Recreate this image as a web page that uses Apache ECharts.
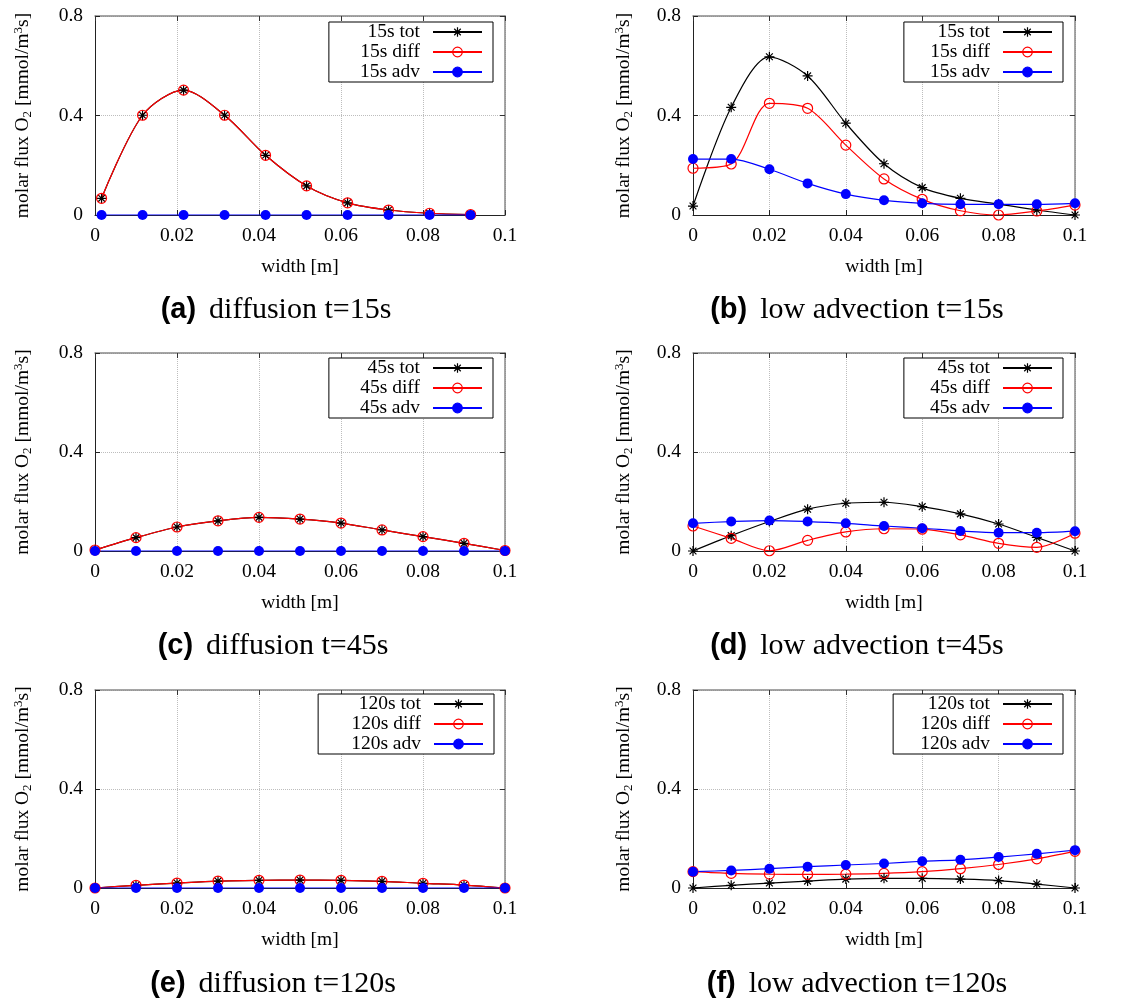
<!DOCTYPE html>
<html>
<head>
<meta charset="utf-8">
<script src="https://cdn.jsdelivr.net/npm/echarts@6.0.0/dist/echarts.min.js"></script>
<style>
  html, body { margin: 0; padding: 0; background: #fff; }
  #chart { width: 1141px; height: 1000px; }
</style>
</head>
<body>
<div id="chart"></div>
<script>
// Sample positions across the channel width [m]
const widthShifted = [0.0016, 0.0116, 0.0216, 0.0316, 0.0416, 0.0516, 0.0616, 0.0716, 0.0816, 0.0916];
const widthNodes   = [0, 0.01, 0.02, 0.03, 0.04, 0.05, 0.06, 0.07, 0.08, 0.09, 0.1];

// (a) diffusion, t = 15 s
const diff15Tot  = [0.067, 0.401, 0.502, 0.401, 0.240, 0.117, 0.049, 0.020, 0.007, 0.002];
const diff15Diff = [0.067, 0.401, 0.502, 0.401, 0.240, 0.117, 0.049, 0.020, 0.007, 0.002];
const diff15Adv  = [0, 0, 0, 0, 0, 0, 0, 0, 0, 0];

// (b) low advection, t = 15 s
const adv15Tot  = [0.036, 0.433, 0.636, 0.559, 0.369, 0.206, 0.110, 0.067, 0.044, 0.020, 0.000];
const adv15Diff = [0.188, 0.205, 0.449, 0.429, 0.281, 0.145, 0.063, 0.017, 0.000, 0.016, 0.040];
const adv15Adv  = [0.225, 0.225, 0.184, 0.127, 0.084, 0.059, 0.047, 0.043, 0.043, 0.043, 0.047];

// (c) diffusion, t = 45 s
const diff45Tot  = [0.004, 0.054, 0.097, 0.122, 0.136, 0.129, 0.113, 0.085, 0.058, 0.031, 0.002];
const diff45Diff = [0.004, 0.054, 0.097, 0.122, 0.136, 0.129, 0.113, 0.085, 0.058, 0.031, 0.002];
const diff45Adv  = [0, 0, 0, 0, 0, 0, 0, 0, 0, 0, 0];

// (d) low advection, t = 45 s
const adv45Tot  = [0.000, 0.062, 0.119, 0.169, 0.193, 0.197, 0.179, 0.150, 0.109, 0.055, 0.000];
const adv45Diff = [0.101, 0.051, 0.001, 0.043, 0.077, 0.090, 0.088, 0.065, 0.031, 0.015, 0.072];
const adv45Adv  = [0.112, 0.119, 0.123, 0.119, 0.112, 0.101, 0.092, 0.081, 0.074, 0.074, 0.080];

// (e) diffusion, t = 120 s
const diff120Tot  = [0.000, 0.011, 0.020, 0.028, 0.031, 0.032, 0.031, 0.027, 0.019, 0.012, 0.000];
const diff120Diff = [0.000, 0.011, 0.020, 0.028, 0.031, 0.032, 0.031, 0.027, 0.019, 0.012, 0.000];
const diff120Adv  = [0, 0, 0, 0, 0, 0, 0, 0, 0, 0, 0];

// (f) low advection, t = 120 s
const adv120Tot  = [0.000, 0.011, 0.020, 0.028, 0.036, 0.039, 0.039, 0.036, 0.030, 0.016, 0.000];
const adv120Diff = [0.066, 0.059, 0.056, 0.055, 0.056, 0.059, 0.066, 0.078, 0.095, 0.118, 0.148];
const adv120Adv  = [0.066, 0.071, 0.078, 0.086, 0.093, 0.099, 0.108, 0.114, 0.125, 0.138, 0.153];

// Axis ranges
const xMin = 0, xMax = 0.1, xStep = 0.02;
const yMin = 0, yMax = 0.8, yStep = 0.4;

const panels = [
  { tag: '(a)', caption: 'diffusion t=15s',       time: '15s',  x: widthShifted, tot: diff15Tot,  diff: diff15Diff,  adv: diff15Adv },
  { tag: '(b)', caption: 'low advection t=15s',   time: '15s',  x: widthNodes,   tot: adv15Tot,   diff: adv15Diff,   adv: adv15Adv },
  { tag: '(c)', caption: 'diffusion t=45s',       time: '45s',  x: widthNodes,   tot: diff45Tot,  diff: diff45Diff,  adv: diff45Adv },
  { tag: '(d)', caption: 'low advection t=45s',   time: '45s',  x: widthNodes,   tot: adv45Tot,   diff: adv45Diff,   adv: adv45Adv },
  { tag: '(e)', caption: 'diffusion t=120s',      time: '120s', x: widthNodes,   tot: diff120Tot, diff: diff120Diff, adv: diff120Adv },
  { tag: '(f)', caption: 'low advection t=120s',  time: '120s', x: widthNodes,   tot: adv120Tot,  diff: adv120Diff,  adv: adv120Adv }
];

// Panel placement on the page
const layouts = [
  { left: 95,  top: 16,  width: 410, height: 199, legRight: 648, legTop: 22,  legPadL: 31, yGap: 61, capX: 276, capTop: 294 },
  { left: 693, top: 16,  width: 382, height: 199, legRight: 78,  legTop: 22,  legPadL: 26, yGap: 58, capX: 857, capTop: 294 },
  { left: 95,  top: 353, width: 410, height: 198, legRight: 648, legTop: 358, legPadL: 31, yGap: 61, capX: 273, capTop: 630 },
  { left: 693, top: 353, width: 382, height: 198, legRight: 78,  legTop: 358, legPadL: 26, yGap: 58, capX: 857, capTop: 630 },
  { left: 95,  top: 690, width: 410, height: 198, legRight: 647, legTop: 694, legPadL: 33, yGap: 61, capX: 273, capTop: 968 },
  { left: 693, top: 690, width: 382, height: 198, legRight: 78,  legTop: 694, legPadL: 27, yGap: 58, capX: 857, capTop: 968 }
];

const SERIF = "'Liberation Serif', 'Times New Roman', serif";
const SANS = "'Liberation Sans', Arial, sans-serif";
const ASTERISK = 'path://M5 0L5 10M0 5L10 5M1.6 1.6L8.4 8.4M1.6 8.4L8.4 1.6';

function points(xs, ys) {
  return xs.map((x, i) => [x, ys[i]]);
}

const grid = [], xAxis = [], yAxis = [], series = [], legend = [], title = [];

panels.forEach((p, i) => {
  const L = layouts[i];
  grid.push({ left: L.left, top: L.top, width: L.width, height: L.height, outerBoundsMode: 'none', containLabel: false });

  // bottom axis with labels and name
  xAxis.push({
    type: 'value', gridIndex: i, position: 'bottom', min: xMin, max: xMax, interval: xStep,
    axisLine: { show: true, onZero: false, lineStyle: { color: '#222', width: 1 } },
    axisTick: { show: true, inside: true, length: 5, lineStyle: { color: '#222', width: 1 } },
    axisLabel: { show: true, margin: 11, fontFamily: SERIF, fontSize: 19.5, color: '#000' },
    splitLine: { show: true, lineStyle: { color: '#bdbdbd', type: 'dotted', width: 1 } },
    name: 'width [m]', nameLocation: 'middle', nameGap: 42, nameMoveOverlap: false,
    nameTextStyle: { fontFamily: SERIF, fontSize: 19.5, color: '#000' }
  });
  // mirrored top border with ticks
  xAxis.push({
    type: 'value', gridIndex: i, position: 'top', min: xMin, max: xMax, interval: xStep,
    axisLine: { show: true, onZero: false, lineStyle: { color: '#888', width: 1.5 } },
    axisTick: { show: true, inside: true, length: 5, lineStyle: { color: '#333', width: 1 } },
    axisLabel: { show: false }, splitLine: { show: false }
  });

  yAxis.push({
    type: 'value', gridIndex: i, position: 'left', min: yMin, max: yMax, interval: yStep,
    axisLine: { show: true, onZero: false, lineStyle: { color: '#222', width: 1 } },
    axisTick: { show: true, inside: true, length: 5, lineStyle: { color: '#222', width: 1 } },
    axisLabel: { show: true, margin: 12, fontFamily: SERIF, fontSize: 19.5, color: '#000' },
    splitLine: { show: true, lineStyle: { color: '#bdbdbd', type: 'dotted', width: 1 } },
    name: 'molar flux O{sub|2} [mmol/m{sup|3}s]', nameLocation: 'middle', nameGap: L.yGap, nameMoveOverlap: false,
    nameTextStyle: {
      fontFamily: SERIF, fontSize: 19.5, color: '#000', lineHeight: 22,
      rich: {
        sub: { fontFamily: SERIF, fontSize: 13, color: '#000', lineHeight: 12, verticalAlign: 'bottom' },
        sup: { fontFamily: SERIF, fontSize: 13, color: '#000', lineHeight: 12, verticalAlign: 'top' }
      }
    }
  });
  yAxis.push({
    type: 'value', gridIndex: i, position: 'right', min: yMin, max: yMax, interval: yStep,
    axisLine: { show: true, onZero: false, lineStyle: { color: '#888', width: 1.5 } },
    axisTick: { show: true, inside: true, length: 5, lineStyle: { color: '#333', width: 1 } },
    axisLabel: { show: false }, splitLine: { show: false }
  });

  const xi = 2 * i, yi = 2 * i;
  const names = [p.time + ' tot', p.time + ' diff', p.time + ' adv'];

  series.push({
    type: 'line', name: names[0], xAxisIndex: xi, yAxisIndex: yi,
    data: points(p.x, p.tot), smooth: 0.3,
    symbol: ASTERISK, symbolSize: 10,
    lineStyle: { color: '#000', width: 1.2 },
    itemStyle: { color: '#000', borderColor: '#000', borderWidth: 1.2 }
  });
  series.push({
    type: 'line', name: names[1], xAxisIndex: xi, yAxisIndex: yi,
    data: points(p.x, p.diff), smooth: 0.3,
    symbol: 'circle', symbolSize: 10,
    lineStyle: { color: '#ff0000', width: 1.2 },
    itemStyle: { color: 'rgba(255,255,255,0)', borderColor: '#ff0000', borderWidth: 1.2 }
  });
  series.push({
    type: 'line', name: names[2], xAxisIndex: xi, yAxisIndex: yi,
    data: points(p.x, p.adv), smooth: 0.3,
    symbol: 'circle', symbolSize: 10,
    lineStyle: { color: '#0000ff', width: 1.2 },
    itemStyle: { color: '#0000ff', borderColor: '#0000ff', borderWidth: 0 }
  });

  legend.push({
    orient: 'vertical', align: 'right', right: L.legRight, top: L.legTop,
    data: names, selectedMode: false,
    itemWidth: 49, itemHeight: 12, itemGap: 0,
    padding: [0, 10, 0, L.legPadL],
    backgroundColor: '#fff', borderColor: '#000', borderWidth: 1, borderRadius: 0,
    itemStyle: { borderWidth: 1.2 },
    textStyle: { fontFamily: SERIF, fontSize: 19.5, color: '#000', lineHeight: 19.5, padding: [0, 8, 0, 0] }
  });

  title.push({
    text: '{b|' + p.tag + '}' + p.caption,
    left: L.capX, top: L.capTop, textAlign: 'center', padding: 0,
    textStyle: {
      fontFamily: SERIF, fontSize: 30, fontWeight: 'normal', color: '#000', lineHeight: 32,
      rich: { b: { fontFamily: SANS, fontSize: 29, fontWeight: 'bold', color: '#000', lineHeight: 32, padding: [0, 13, 0, 0] } }
    }
  });
});

const chart = echarts.init(document.getElementById('chart'), null, { renderer: 'canvas' });
chart.setOption({
  animation: false,
  backgroundColor: '#fff',
  title, grid, xAxis, yAxis, series, legend
});
</script>
</body>
</html>
